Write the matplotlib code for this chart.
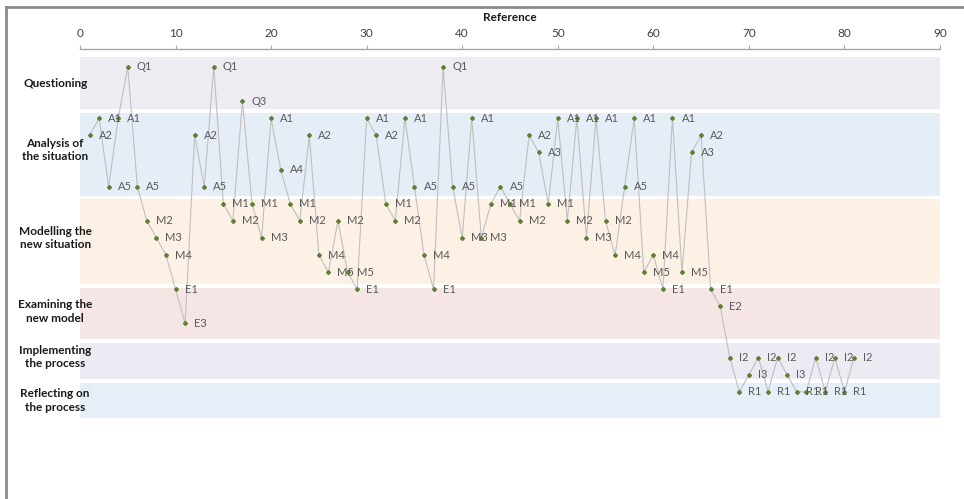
import matplotlib
matplotlib.use('Agg')
import matplotlib.pyplot as plt
from matplotlib.lines import Line2D

plt.rcParams['font.family'] = ['Lato', 'DejaVu Sans']

# codes in top-to-bottom order, one row each
codeRows = ['Q1', 'Q2', 'Q3',
            'A1', 'A2', 'A3', 'A4', 'A5',
            'M1', 'M2', 'M3', 'M4', 'M5',
            'E1', 'E2', 'E3',
            'I1', 'I2', 'I3',
            'R1']

# coded sequence, one code per reference 1..81
sequence = ['A2', 'A1', 'A5', 'A1', 'Q1', 'A5', 'M2', 'M3', 'M4', 'E1',
            'E3', 'A2', 'A5', 'Q1', 'M1', 'M2', 'Q3', 'M1', 'M3', 'A1',
            'A4', 'M1', 'M2', 'A2', 'M4', 'M5', 'M2', 'M5', 'E1', 'A1',
            'A2', 'M1', 'M2', 'A1', 'A5', 'M4', 'E1', 'Q1', 'A5', 'M3',
            'A1', 'M3', 'M1', 'A5', 'M1', 'M2', 'A2', 'A3', 'M1', 'A1',
            'M2', 'A1', 'M3', 'A1', 'M2', 'M4', 'A5', 'A1', 'M5', 'M4',
            'E1', 'A1', 'M5', 'A3', 'A2', 'E1', 'E2', 'I2', 'R1', 'I3',
            'I2', 'R1', 'I2', 'I3', 'R1', 'R1', 'I2', 'R1', 'I2', 'R1',
            'I2']
references = list(range(1, len(sequence) + 1))

phases = ['Questioning', 'Analysis of\nthe situation', 'Modelling the\nnew situation',
          'Examining the\nnew model', 'Implementing\nthe process', 'Reflecting on\nthe process']
phaseTop = [-0.6, 2.7, 7.75, 12.9, 16.15, 18.5]
phaseBottom = [2.45, 7.55, 12.7, 15.9, 18.25, 20.55]
phaseLabelY = [0.94, 4.85, 10.0, 14.3, 16.96, 19.5]
phaseColors = ['#EEEBF3', '#E5EDF7', '#FDF1E6', '#F6E5E5', '#ECEAF2', '#E6EEF7']

fig = plt.figure(figsize=(9.64, 4.99), dpi=100)
ax = fig.add_axes([80/964, 1-430/499, 860/964, 381/499])

# background bands for each phase
for top, bottom, col in zip(phaseTop, phaseBottom, phaseColors):
    ax.fill_between([0, 90], top, bottom, color=col, lw=0, zorder=0)

levels = [codeRows.index(c) for c in sequence]
ax.plot(references, levels, color='#BFBFBF', lw=0.8, zorder=2)
ax.plot(references, levels, ls='none', marker='D', ms=2.0, color='#5F7F35', zorder=3)

for x, y, c in zip(references, levels, sequence):
    ax.annotate(c, (x, y), xytext=(6.5, 0), textcoords='offset points',
                va='center', ha='left', fontsize=8, color='#595959', zorder=4)

for lab, y in zip(phases, phaseLabelY):
    ax.text(-2.6, y, lab, ha='center', va='center', fontsize=8.5, fontweight='bold',
            color='#1a1a1a', linespacing=1.25)

ax.set_xlim(0, 90)
ax.set_ylim(21.23, -1.05)
ax.set_xticks(range(0, 91, 10))
ax.xaxis.tick_top()
ax.tick_params(axis='x', direction='out', length=3, color='#A6A6A6', labelsize=8.5,
               labelcolor='#404040', pad=4)
ax.set_yticks([])
for s in ['left', 'right', 'bottom']:
    ax.spines[s].set_visible(False)
ax.spines['top'].set_color('#A6A6A6')
ax.spines['top'].set_linewidth(1)
ax.set_title('Reference', fontsize=8.5, fontweight='bold', color='#1a1a1a', pad=20)

# outer frame like the pasted picture
fig.add_artist(Line2D([6/964, 6/964], [0, 1-7/499], color='#8C8C8C', lw=2))
fig.add_artist(Line2D([6/964, 1], [1-7/499, 1-7/499], color='#8C8C8C', lw=2))

fig.savefig('out.png', dpi=100)
